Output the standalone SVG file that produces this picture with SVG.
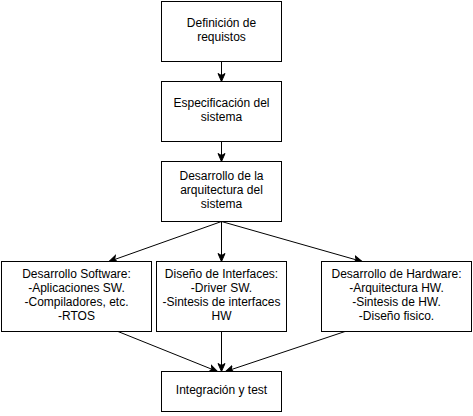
<svg xmlns="http://www.w3.org/2000/svg" width="473" height="416" viewBox="0 0 473 416">
<defs>
<style>
.box{fill:#fff;stroke:#000;stroke-width:1}
.t{font-family:"Liberation Sans",Arial,Helvetica,sans-serif;font-size:12px;fill:#000;text-anchor:middle}
.e{fill:none;stroke:#000;stroke-width:1}
</style>
<marker id="arr" markerWidth="9" markerHeight="9" viewBox="0 0 9 9" refX="8.5" refY="4.5" orient="auto" markerUnits="userSpaceOnUse">
<path d="M0.5,1 L8.5,4.5 L0.5,8 L2.5,4.5 Z" fill="#000" stroke="#000" stroke-width="1"/>
</marker>
</defs>
<rect width="473" height="416" fill="#fff"/>
<g id="connectors">
<line class="e" x1="221.5" y1="61.5" x2="221.5" y2="81.5" marker-end="url(#arr)"/>
<line class="e" x1="221.5" y1="141.5" x2="221.5" y2="161.5" marker-end="url(#arr)"/>
<line class="e" x1="221.5" y1="221.5" x2="221.5" y2="261.5" marker-end="url(#arr)"/>
<line class="e" x1="221.5" y1="221.5" x2="109" y2="261.5" marker-end="url(#arr)"/>
<line class="e" x1="221.5" y1="221.5" x2="362" y2="261.5" marker-end="url(#arr)"/>
<line class="e" x1="221.5" y1="331.5" x2="221.5" y2="371.5" marker-end="url(#arr)"/>
<line class="e" x1="118" y1="331.5" x2="217.5" y2="371.5" marker-end="url(#arr)"/>
<line class="e" x1="345" y1="331.5" x2="225.5" y2="371.5" marker-end="url(#arr)"/>
</g>
<g id="n1">
<rect class="box" x="161.5" y="1.5" width="120" height="60"/>
<text class="t" x="221.5" y="26.5">Definición de</text>
<text class="t" x="221.5" y="40.5">requistos</text>
</g>
<g id="n2">
<rect class="box" x="161.5" y="81.5" width="120" height="60"/>
<text class="t" x="221.5" y="106.5">Especificación del</text>
<text class="t" x="221.5" y="120.5">sistema</text>
</g>
<g id="n3">
<rect class="box" x="161.5" y="161.5" width="120" height="60"/>
<text class="t" x="221.5" y="179.5">Desarrollo de la</text>
<text class="t" x="221.5" y="193.5">arquitectura del</text>
<text class="t" x="221.5" y="207.5">sistema</text>
</g>
<g id="n4">
<rect class="box" x="1.5" y="261.5" width="150" height="70"/>
<text class="t" x="76.5" y="277.5">Desarrollo Software:</text>
<text class="t" x="76.5" y="291.5">-Aplicaciones SW.</text>
<text class="t" x="76.5" y="305.5">-Compiladores, etc.</text>
<text class="t" x="76.5" y="319.5">-RTOS</text>
</g>
<g id="n5">
<rect class="box" x="156.5" y="261.5" width="130" height="70"/>
<text class="t" x="221.5" y="277.5">Diseño de Interfaces:</text>
<text class="t" x="221.5" y="291.5">-Driver SW.</text>
<text class="t" x="221.5" y="305.5">-Sintesis de interfaces</text>
<text class="t" x="221.5" y="319.5">HW</text>
</g>
<g id="n6">
<rect class="box" x="321.5" y="261.5" width="150" height="70"/>
<text class="t" x="396.5" y="277.5">Desarrollo de Hardware:</text>
<text class="t" x="396.5" y="291.5">-Arquitectura HW.</text>
<text class="t" x="396.5" y="305.5">-Sintesis de HW.</text>
<text class="t" x="396.5" y="319.5">-Diseño fisico.</text>
</g>
<g id="n7">
<rect class="box" x="161.5" y="371.5" width="120" height="40"/>
<text class="t" x="221.5" y="393.5">Integración y test</text>
</g>
</svg>
